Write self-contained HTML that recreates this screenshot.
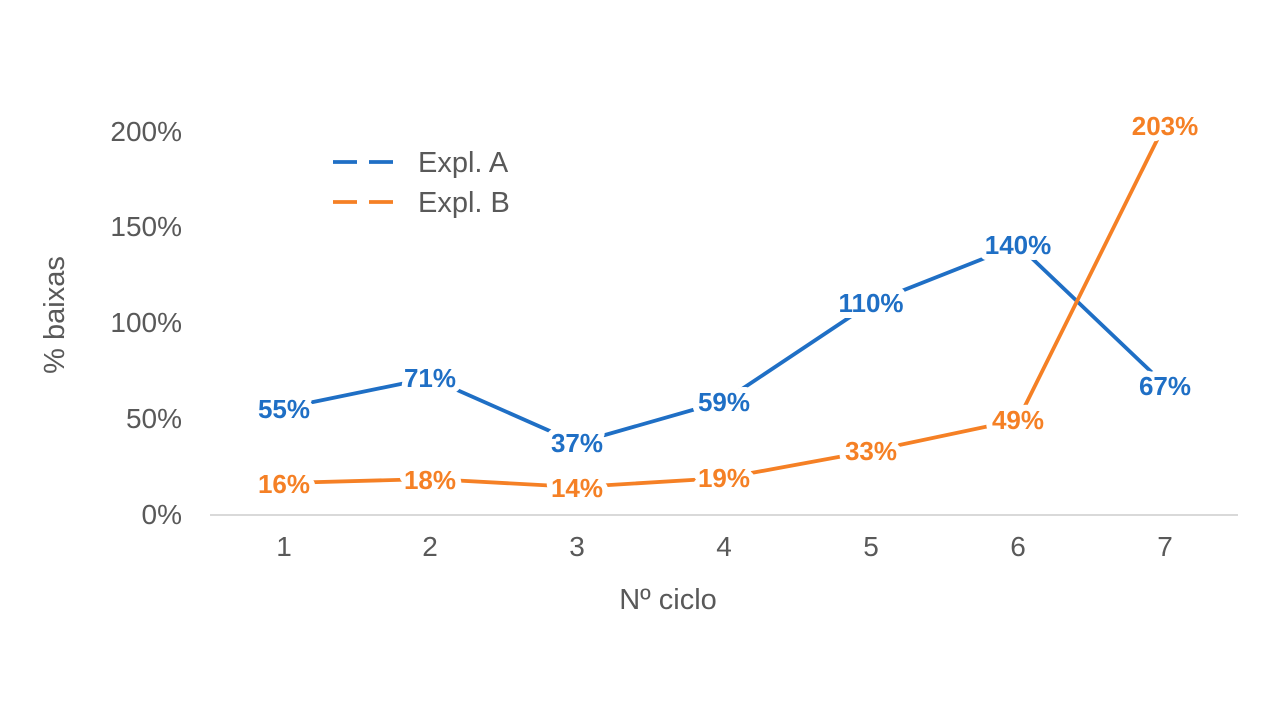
<!DOCTYPE html>
<html><head><meta charset="utf-8"><style>
html,body{margin:0;padding:0;background:#fff;}
svg{display:block;font-family:"Liberation Sans",Arial,sans-serif;}
.t{fill:#595959;font-size:28px;}
.lb{font-weight:bold;font-size:26px;text-anchor:middle;dominant-baseline:central;paint-order:stroke;stroke:#fff;stroke-width:12px;stroke-linejoin:round;}
</style></head><body>
<svg width="1288" height="728" viewBox="0 0 1288 728">
<line x1="210" y1="515" x2="1238" y2="515" stroke="#d9d9d9" stroke-width="2"/>
<g class="t" text-anchor="end">
<text x="182" y="141">200%</text>
<text x="182" y="236">150%</text>
<text x="182" y="332">100%</text>
<text x="182" y="428">50%</text>
<text x="182" y="524">0%</text>
</g>
<g class="t" text-anchor="middle">
<text x="284" y="556">1</text><text x="430" y="556">2</text><text x="577" y="556">3</text>
<text x="724" y="556">4</text><text x="871" y="556">5</text><text x="1018" y="556">6</text><text x="1165" y="556">7</text>
<text x="668" y="609" style="font-size:29px">Nº ciclo</text>
<text transform="translate(64,315) rotate(-90)" style="font-size:29px">% baixas</text>
</g>
<polyline fill="none" stroke="#1f6fc5" stroke-width="3.8" stroke-linejoin="round" points="284,408 430,378 577,443 724,401 871,303 1018,245 1165,385"/>
<polyline fill="none" stroke="#f58025" stroke-width="3.8" stroke-linejoin="round" points="284,483 430,479 577,487 724,478 871,451 1018,420 1165,124"/>
<g class="lb" fill="#1f6fc5">
<text x="284" y="409">55%</text><text x="430" y="378">71%</text><text x="577" y="443">37%</text>
<text x="724" y="402">59%</text><text x="871" y="303">110%</text><text x="1018" y="245">140%</text><text x="1165" y="386">67%</text>
</g>
<g class="lb" fill="#f58025">
<text x="284" y="484">16%</text><text x="430" y="480">18%</text><text x="577" y="488">14%</text>
<text x="724" y="478">19%</text><text x="871" y="451">33%</text><text x="1018" y="420">49%</text><text x="1165" y="126">203%</text>
</g>
<line x1="333" y1="162" x2="403" y2="162" stroke="#1f6fc5" stroke-width="3.8" stroke-dasharray="24,12"/>
<line x1="333" y1="202" x2="403" y2="202" stroke="#f58025" stroke-width="3.8" stroke-dasharray="24,12"/>
<text class="t" x="418" y="172" style="font-size:29px">Expl. A</text>
<text class="t" x="418" y="212" style="font-size:29px">Expl. B</text>
</svg>
</body></html>
